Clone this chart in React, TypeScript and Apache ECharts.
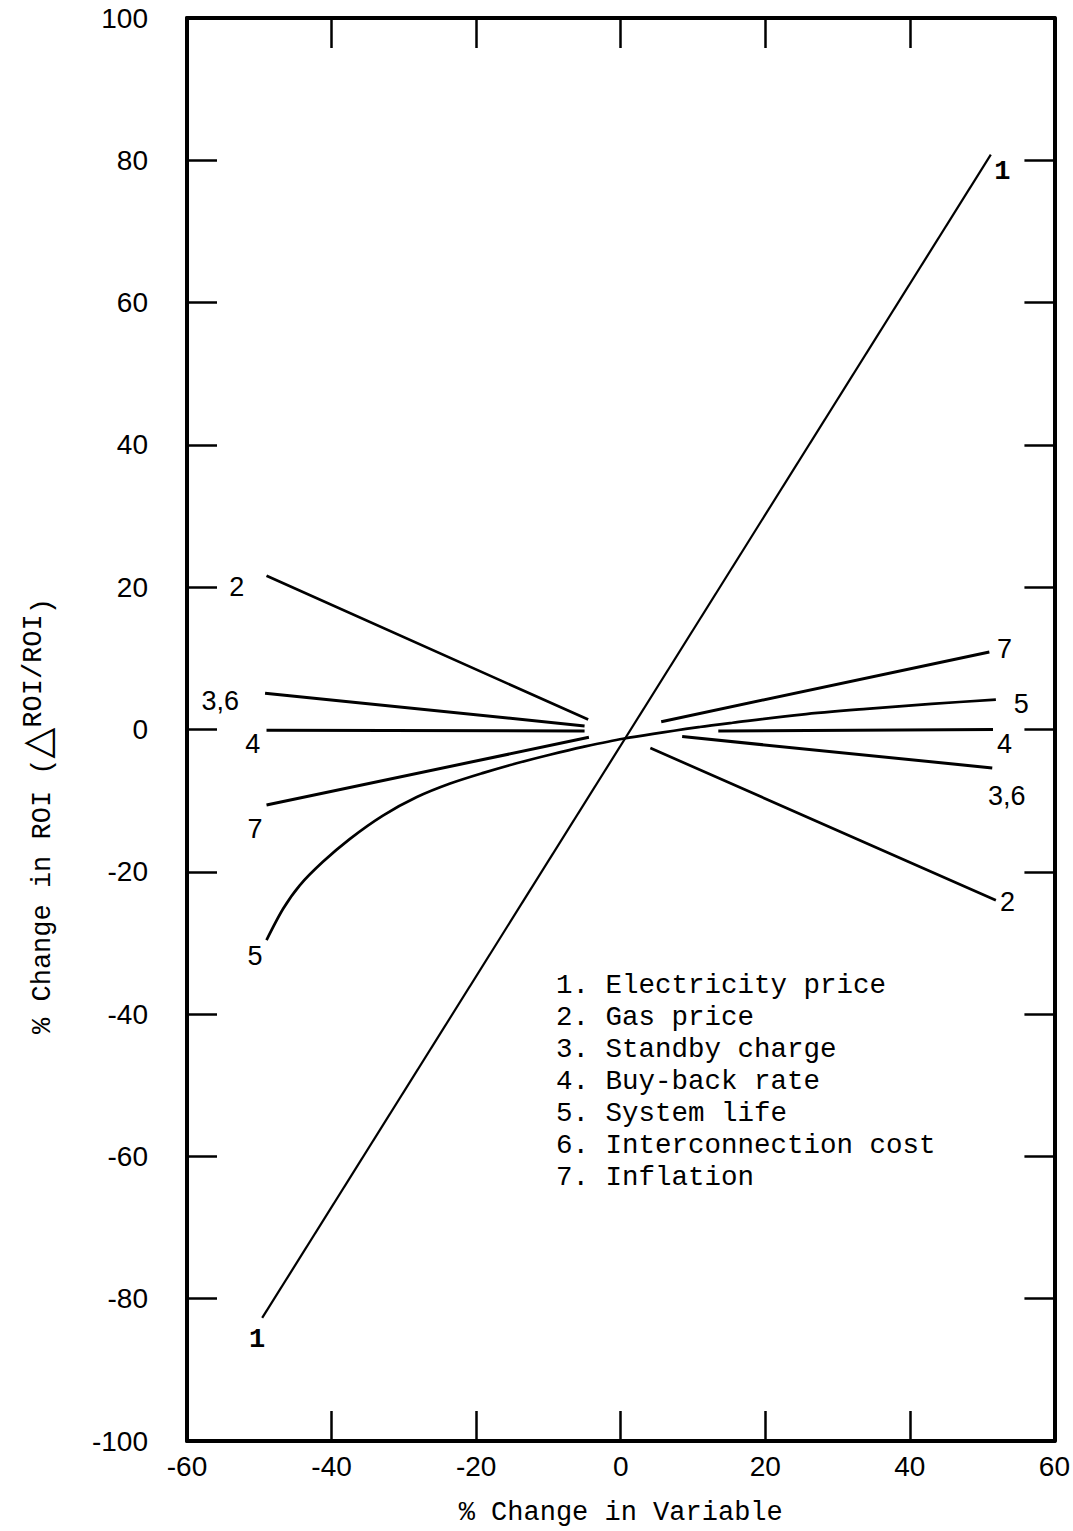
import React, { useEffect, useRef } from "react";
import * as echarts from "echarts";

// ---- data ----
const xMin = -60;
const xMax = 60;
const xStep = 20;
const yMin = -100;
const yMax = 100;
const yStep = 20;

// 1. Electricity price
const elecX = [-49.6, 51.2];
const elecY = [-82.7, 80.8];
// 2. Gas price (left and right segments)
const gasLeftX = [-49, -4.5];
const gasLeftY = [21.6, 1.4];
const gasRightX = [4.1, 51.9];
const gasRightY = [-2.6, -24.0];
// 3,6. Standby charge / Interconnection cost
const standbyLeftX = [-49.2, -5];
const standbyLeftY = [5.1, 0.5];
const standbyRightX = [8.5, 51.4];
const standbyRightY = [-1.0, -5.4];
// 4. Buy-back rate
const buybackLeftX = [-49, -5];
const buybackLeftY = [-0.1, -0.2];
const buybackRightX = [13.5, 51.5];
const buybackRightY = [-0.2, 0.0];
// 5. System life (continuous curve)
const lifeX = [-49, -46.7, -44.4, -41.2, -37.5, -32.9, -28.2, -23.6, -19, -14.4, -9.8, -5.2, 0.3, 10.9, 15.5, 25, 34, 43, 51.9];
const lifeY = [-29.6, -25.2, -21.9, -18.6, -15.4, -12.1, -9.5, -7.6, -6.1, -4.75, -3.55, -2.45, -1.3, 0.35, 0.95, 2.1, 2.9, 3.6, 4.2];
// 7. Inflation
const inflLeftX = [-49, -4.4];
const inflLeftY = [-10.6, -1.1];
const inflRightX = [5.6, 51];
const inflRightY = [1.1, 10.9];

// curve number labels
const curveLabelTexts = ["1", "1", "2", "2", "3,6", "3,6", "4", "4", "5", "5", "7", "7"];
const curveLabelX = [52.8, -50.3, -53.1, 53.5, -55.4, 53.4, -50.9, 53.1, 55.4, -50.6, 53.1, -50.6];
const curveLabelY = [78.4, -85.8, 20.0, -24.2, 4.0, -9.3, -2.0, -2.0, 3.6, -31.8, 11.3, -14.0];

const legendLines = [
  "1. Electricity price",
  "2. Gas price",
  "3. Standby charge",
  "4. Buy-back rate",
  "5. System life",
  "6. Interconnection cost",
  "7. Inflation",
];

const xTitle = "% Change in Variable";

// ---- helpers ----
const zip = (xs: number[], ys: number[]) => xs.map((x, i) => [x, ys[i]]);
const segments = (lx: number[], ly: number[], rx: number[], ry: number[]) => [
  ...zip(lx, ly),
  [0, "-"],
  ...zip(rx, ry),
];

const MONO = "'Liberation Mono', 'DejaVu Sans Mono', monospace";
const SANS = "'Liberation Sans', Arial, sans-serif";

export default function App() {
  const ref = useRef<HTMLDivElement>(null);

  useEffect(() => {
    if (!ref.current) return;
    const chart = echarts.init(ref.current, undefined, { renderer: "svg" });

    const lineSeries = (name: string, data: any[], w: number, smooth: number | boolean = false) => ({
      type: "line",
      name,
      data,
      smooth,
      showSymbol: false,
      symbol: "none",
      connectNulls: false,
      lineStyle: { color: "#000", width: w },
      itemStyle: { color: "#000" },
      silent: true,
    });

    const tickLabelStyle = { fontSize: 28, color: "#000", fontFamily: SANS };

    const baseAxis = {
      type: "value",
      splitLine: { show: false },
      axisLine: { show: true, onZero: false, lineStyle: { color: "#000", width: 4 } },
      axisTick: { show: true, inside: true, length: 30, lineStyle: { color: "#000", width: 2.5 } },
    };

    const option: any = {
      animation: false,
      backgroundColor: "#fff",
      grid: { left: 187, top: 18, width: 868, height: 1425, containLabel: false },
      xAxis: [
        {
          ...baseAxis,
          position: "bottom",
          min: xMin,
          max: xMax,
          interval: xStep,
          axisLabel: { ...tickLabelStyle, margin: 11 },
          name: xTitle,
          nameLocation: "middle",
          nameGap: 58,
          nameTextStyle: { fontSize: 27, color: "#000", fontFamily: MONO },
        },
        {
          ...baseAxis,
          position: "top",
          min: xMin,
          max: xMax,
          interval: xStep,
          axisLabel: { show: false },
        },
      ],
      yAxis: [
        {
          ...baseAxis,
          position: "left",
          min: yMin,
          max: yMax,
          interval: yStep,
          axisLabel: { ...tickLabelStyle, margin: 39 },
        },
        {
          ...baseAxis,
          position: "right",
          min: yMin,
          max: yMax,
          interval: yStep,
          axisLabel: { show: false },
        },
      ],
      series: [
        lineSeries("1", zip(elecX, elecY), 2.2),
        lineSeries("2", segments(gasLeftX, gasLeftY, gasRightX, gasRightY), 2.7),
        lineSeries("3,6", segments(standbyLeftX, standbyLeftY, standbyRightX, standbyRightY), 3),
        lineSeries("4", segments(buybackLeftX, buybackLeftY, buybackRightX, buybackRightY), 3),
        lineSeries("5", zip(lifeX, lifeY), 2.7, 0.3),
        lineSeries("7", segments(inflLeftX, inflLeftY, inflRightX, inflRightY), 3),
        {
          type: "scatter",
          name: "labels",
          symbolSize: 0,
          silent: true,
          itemStyle: { color: "#000", opacity: 1 },
          data: curveLabelTexts.map((t, i) => ({
            name: t,
            value: [curveLabelX[i], curveLabelY[i]],
            label:
              t === "1"
                ? { fontFamily: MONO, fontSize: 27, fontWeight: "bold", color: "#000" }
                : { color: "#000" },
          })),
          label: {
            show: true,
            position: "inside",
            formatter: "{b}",
            fontSize: 27,
            color: "#000",
            opacity: 1,
            fontFamily: SANS,
          },
        },
      ],
      graphic: [
        {
          type: "text",
          left: 556,
          top: 969,
          silent: true,
          style: {
            text: legendLines.join("\n"),
            font: `27.5px ${MONO}`,
            fill: "#000",
            lineHeight: 32,
          },
        },
        {
          type: "text",
          x: 38,
          y: 816,
          rotation: Math.PI / 2,
          silent: true,
          style: {
            text: "{n|% Change in ROI (}{t|△}{s|ROI/ROI}{n|)}",
            align: "center",
            verticalAlign: "middle",
            fill: "#000",
            rich: {
              n: { fontSize: 27, fontFamily: MONO, lineHeight: 36, verticalAlign: "bottom", fill: "#000" },
              t: { fontSize: 40, fontFamily: "'DejaVu Sans', sans-serif", lineHeight: 36, verticalAlign: "bottom", fill: "#000" },
              s: { fontSize: 27, fontFamily: MONO, lineHeight: 30, verticalAlign: "top", fill: "#000" },
            },
          },
        },
      ],
    };

    chart.setOption(option);
    return () => chart.dispose();
  }, []);

  return (
    <div
      ref={ref}
      style={{ position: "absolute", left: 0, top: 0, width: 1073, height: 1531, background: "#fff" }}
    />
  );
}
